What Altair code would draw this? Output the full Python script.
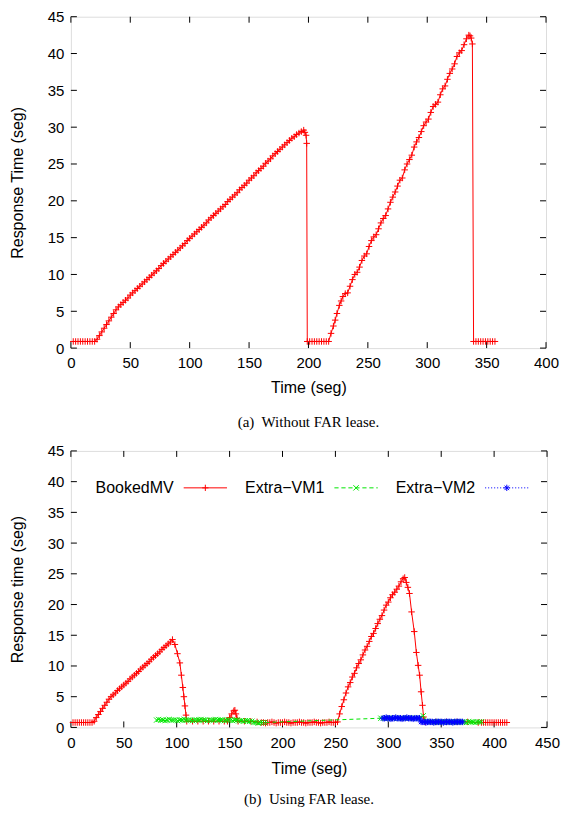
import altair as alt
import pandas as pd

# ---------------- panel (a): without FAR lease ----------------
a_time = [2, 4, 6, 8, 10, 12, 14, 16, 18, 20,
          22, 24, 26, 28, 30, 32, 34, 36, 38, 40,
          42, 44, 46, 48, 50, 52, 54, 56, 58, 60,
          62, 64, 66, 68, 70, 72, 74, 76, 78, 80,
          82, 84, 86, 88, 90, 92, 94, 96, 98, 100,
          102, 104, 106, 108, 110, 112, 114, 116, 118, 120,
          122, 124, 126, 128, 130, 132, 134, 136, 138, 140,
          142, 144, 146, 148, 150, 152, 154, 156, 158, 160,
          162, 164, 166, 168, 170, 172, 174, 176, 178, 180,
          182, 184, 186, 188, 190, 192, 194, 196,
          197, 198, 198.5,
          199, 201, 203, 205, 207, 209, 211, 213, 215, 217,
          219, 221, 222.5, 224, 226, 227.5, 229,
          231, 233, 235, 237, 239, 241, 243, 245, 247, 249,
          251, 253, 255, 257, 259, 261, 263, 265, 267, 269,
          271, 273, 275, 277, 279, 281, 283, 285, 287, 289,
          291, 293, 295, 297, 299, 301, 303, 305, 307, 309,
          311, 313, 315, 317, 319, 321, 323, 325, 327, 329,
          331, 333, 335, 336, 337, 338,
          339, 341, 343, 345, 347, 349, 351, 353, 355, 357]
a_resp = [0.9, 0.9, 0.9, 0.9, 0.9, 0.9, 0.9, 0.9, 0.9, 0.9,
          1.2, 1.7, 2.2, 2.7, 3.2, 3.7, 4.2, 4.7, 5.2, 5.6,
          5.9, 6.2, 6.5, 6.8, 7.2, 7.5, 7.8, 8.1, 8.4, 8.7,
          9.0, 9.3, 9.6, 9.9, 10.2, 10.5, 10.8, 11.2, 11.5, 11.8,
          12.1, 12.4, 12.7, 13.0, 13.3, 13.6, 13.9, 14.2, 14.6, 14.9,
          15.2, 15.5, 15.8, 16.1, 16.4, 16.7, 17.0, 17.4, 17.7, 18.0,
          18.3, 18.6, 18.9, 19.2, 19.5, 19.9, 20.2, 20.5, 20.8, 21.1,
          21.5, 21.8, 22.1, 22.4, 22.8, 23.1, 23.4, 23.8, 24.1, 24.4,
          24.7, 25.1, 25.4, 25.7, 26.1, 26.4, 26.7, 27.0, 27.3, 27.6,
          27.9, 28.2, 28.5, 28.7, 29.0, 29.2, 29.4, 29.6,
          29.3, 28.9, 27.8,
          0.9, 0.9, 0.9, 0.9, 0.9, 0.9, 0.9, 0.9, 0.9, 0.9,
          2.0, 3.0, 3.8, 4.7, 5.8, 6.4, 7.0,
          7.4, 7.5, 8.4, 9.3, 10.0, 10.3, 11.0, 11.9, 12.5, 12.8,
          13.8, 14.6, 15.1, 15.4, 16.2, 17.0, 17.6, 18.0, 18.9, 19.8,
          20.5, 21.2, 22.0, 22.8, 23.1, 24.2, 25.0, 25.6, 26.2, 27.3,
          28.0, 28.6, 29.4, 30.2, 30.7, 31.1, 32.0, 32.8, 33.1, 33.4,
          34.4, 35.2, 35.6, 36.5, 37.3, 37.9, 38.6, 39.6, 40.1, 40.4,
          41.2, 42.0, 42.5, 42.4, 42.1, 41.3,
          0.9, 0.9, 0.9, 0.9, 0.9, 0.9, 0.9, 0.9, 0.9, 0.9]

# ---------------- panel (b): using FAR lease ----------------
booked_time = [2, 4, 6, 8, 10, 12, 14, 16, 18, 20,
               22, 24, 26, 28, 30, 32, 34, 36, 38, 40,
               42, 44, 46, 48, 50, 52, 54, 56, 58, 60,
               62, 64, 66, 68, 70, 72, 74, 76, 78, 80,
               82, 84, 86, 88, 90, 92, 94, 96,
               98.3, 100.7, 103, 104.4, 105.8, 106.8, 107.8, 108.8, 109.5,
               115, 120, 125, 130, 135, 140, 145, 148,
               150, 152, 154, 155, 156, 157, 158,
               164, 170, 176, 180,
               182, 184, 186, 188, 190, 192, 194, 196, 198, 200,
               202, 204, 206, 208, 210, 212, 214, 216, 218, 220,
               222, 224, 226, 228, 230, 232, 234, 236, 238, 240,
               242, 244, 246, 248, 250,
               252, 254, 256, 258, 260, 262, 264, 266, 268, 270,
               272, 274, 276, 278, 280, 282, 284, 286, 288, 290,
               292, 294, 296, 298, 300, 302, 304, 306, 308, 310,
               312, 314,
               315.5, 317, 318.5, 320, 322, 324.5, 326.5, 328.2, 329.6, 331,
               332.3, 333.3,
               335, 345, 355, 365, 375, 385,
               388, 390, 392, 394, 396, 398, 400, 402, 404, 406,
               408, 410, 412]
booked_resp = [0.8, 0.8, 0.8, 0.8, 0.8, 0.8, 0.8, 0.8, 0.8, 0.8,
               1.0, 1.6, 2.1, 2.6, 3.1, 3.6, 4.1, 4.6, 5.0, 5.3,
               5.6, 6.0, 6.3, 6.6, 6.9, 7.2, 7.5, 7.9, 8.2, 8.5,
               8.8, 9.1, 9.5, 9.8, 10.1, 10.4, 10.7, 11.1, 11.4, 11.7,
               12.0, 12.3, 12.7, 13.0, 13.3, 13.6, 13.9, 14.3,
               13.5, 12.0, 10.5, 8.5, 6.5, 5.0, 3.5, 2.0, 1.0,
               1.0, 1.0, 1.0, 1.0, 1.0, 1.0, 1.0, 1.0,
               1.6, 2.2, 2.7, 2.8, 2.2, 1.5, 1.0,
               1.0, 1.0, 0.9, 0.8,
               0.8, 0.7, 0.8, 0.8, 0.9, 0.8, 0.7, 0.8, 0.8, 0.8,
               0.9, 0.8, 0.8, 0.7, 0.8, 0.8, 0.8, 0.9, 0.8, 0.8,
               0.7, 0.8, 0.8, 0.8, 0.9, 0.8, 0.8, 0.7, 0.8, 0.8,
               0.8, 0.9, 0.8, 0.8, 0.8,
               0.9, 2.2, 3.4, 4.5, 5.6, 6.6, 7.3, 8.2, 8.8, 9.7,
               10.4, 11.0, 11.8, 12.6, 13.2, 14.0, 14.8, 15.3, 16.1, 16.9,
               17.6, 18.2, 19.1, 19.9, 20.4, 21.1, 21.6, 22.0, 22.5, 23.0,
               23.7, 24.2,
               24.4, 23.6, 22.8, 21.8, 18.8, 15.6, 12.2, 10.1, 8.5, 5.8,
               3.6, 1.7,
               0.9, 0.9, 0.9, 0.9, 0.9, 0.8,
               0.8, 0.8, 0.8, 0.8, 0.8, 0.8, 0.8, 0.8, 0.8, 0.8,
               0.8, 0.8, 0.8]

vm1_time = [81, 83, 85, 87, 89, 91, 93, 95, 97, 99,
            101, 103, 105, 107, 109, 111, 113, 115, 117, 119,
            121, 123, 125, 127, 129, 131, 133, 135, 137, 139,
            141, 143, 145, 147,
            149, 151, 153, 155, 157,
            159, 161, 163, 165, 167, 169, 171,
            173, 175, 177, 179, 181, 183,
            293,
            296, 299, 302, 305, 308, 311, 314, 317, 320, 323, 326, 329,
            333, 336,
            340, 342, 344, 346, 348, 350, 352, 354, 356, 358,
            360, 362, 364, 366, 368, 370, 372, 374, 376, 378,
            380, 382, 384, 386, 388]
vm1_resp = [1.2, 1.3, 1.2, 1.2, 1.1, 1.2, 1.3, 1.2, 1.2, 1.2,
            1.1, 1.2, 1.2, 1.3, 1.2, 1.2, 1.2, 1.1, 1.2, 1.2,
            1.2, 1.3, 1.2, 1.2, 1.1, 1.2, 1.2, 1.2, 1.3, 1.2,
            1.2, 1.2, 1.1, 1.2,
            1.2, 1.2, 1.1, 1.2, 1.2,
            1.1, 1.1, 1.0, 1.1, 1.1, 1.0, 1.0,
            0.8, 0.8, 0.7, 0.8, 0.8, 0.8,
            1.5,
            1.5, 1.5, 1.5, 1.5, 1.5, 1.5, 1.5, 1.5, 1.5, 1.5, 1.5, 1.5,
            1.9, 1.0,
            0.9, 0.9, 0.9, 0.9, 0.9, 0.9, 0.9, 0.9, 0.9, 0.9,
            0.9, 0.9, 0.9, 0.9, 0.9, 0.9, 0.9, 0.8, 0.9, 0.9,
            0.9, 0.8, 0.9, 0.9, 0.9]

vm2_time = [295, 296.5, 298, 299.5, 301, 302.5, 304, 305.5, 307, 308.5,
            310, 311.5, 313, 314.5, 316, 317.5, 319, 320.5, 322, 323.5,
            325, 326.5, 328, 329.5,
            331, 332.5, 334, 335.5, 337, 338.5, 340, 341.5, 343, 344.5,
            346, 347.5, 349, 350.5, 352, 353.5, 355, 356.5, 358, 359.5,
            361, 362.5, 364, 365.5, 367, 368.5, 370]
vm2_resp = [1.5, 1.5, 1.6, 1.5, 1.5, 1.4, 1.5, 1.5, 1.6, 1.5,
            1.5, 1.5, 1.4, 1.5, 1.5, 1.6, 1.5, 1.5, 1.5, 1.4,
            1.5, 1.5, 1.5, 1.5,
            0.9, 0.9, 0.9, 0.8, 0.9, 0.9, 0.9, 0.9, 0.8, 0.9,
            0.9, 0.9, 0.9, 0.9, 0.8, 0.9, 0.9, 0.9, 0.9, 0.9,
            0.8, 0.9, 0.9, 0.9, 0.9, 0.9, 0.9]

series_names = ["BookedMV", "Extra\u2212VM1", "Extra\u2212VM2"]
series_colors = ["#ff0000", "#00e600", "#0000ff"]

x_ticks_a = [0, 50, 100, 150, 200, 250, 300, 350, 400]
x_ticks_b = [0, 50, 100, 150, 200, 250, 300, 350, 400, 450]
y_ticks = [0, 5, 10, 15, 20, 25, 30, 35, 40, 45]

# ---------------- styling ----------------
FONT = "Liberation Sans"
SERIF = "Liberation Serif"
PLUS = "M-1,0L1,0M0,-1L0,1"
CROSS = "M-0.8,-0.8L0.8,0.8M-0.8,0.8L0.8,-0.8"
STAR = "M-1,0L1,0M0,-1L0,1M-0.7,-0.7L0.7,0.7M-0.7,0.7L0.7,-0.7"
TICK = 6

# legend sample: drawn to the right of the (right-aligned) label
L0, L1 = 2.57, 8.77
LC = (L0 + L1) / 2


def dashed(on, off):
    segs, x = [], L0
    while x < L1:
        e = min(x + on, L1)
        segs.append(f"M{x:.2f},0L{e:.2f},0")
        x += on + off
    return "".join(segs)


def marker(kind, r=0.45):
    c = LC
    plus = f"M{c - r:.2f},0L{c + r:.2f},0M{c:.2f},{-r}L{c:.2f},{r}"
    d = r * 0.85
    cross = f"M{c - d:.2f},{-d:.2f}L{c + d:.2f},{d:.2f}M{c - d:.2f},{d:.2f}L{c + d:.2f},{-d:.2f}"
    if kind == "plus":
        return plus
    if kind == "cross":
        return cross
    return plus + f"M{c - 0.7 * r:.2f},{-0.7 * r:.2f}L{c + 0.7 * r:.2f},{0.7 * r:.2f}" \
                  f"M{c - 0.7 * r:.2f},{0.7 * r:.2f}L{c + 0.7 * r:.2f},{-0.7 * r:.2f}"


legend_paths = [
    f"M{L0},0L{L1},0" + marker("plus"),
    dashed(0.6, 0.4) + marker("cross"),
    dashed(0.15, 0.28) + marker("star"),
]


def encodings(xmax, xticks, ytitle, lp, tp):
    X = alt.X("t:Q", scale=alt.Scale(domain=[0, xmax], nice=False, zero=False),
              axis=alt.Axis(values=xticks, title="Time (seg)", ticks=False, domain=False,
                            grid=False, labelPadding=lp, titlePadding=tp, labelFlush=False,
                            labelFont=FONT, labelFontSize=15, labelColor="black",
                            titleFont=FONT, titleFontSize=16, titleFontWeight="normal",
                            titleColor="black"))
    Y = alt.Y("v:Q", scale=alt.Scale(domain=[0, 45], nice=False, zero=False),
              axis=alt.Axis(values=y_ticks, title=ytitle, ticks=False, domain=False,
                            grid=False, labelPadding=7, titlePadding=22, labelFlush=False,
                            labelFont=FONT, labelFontSize=15, labelColor="black",
                            titleFont=FONT, titleFontSize=16, titleFontWeight="normal",
                            titleColor="black"))
    return X, Y


def tick_layers(X, Y, xticks, W, H):
    xt = pd.DataFrame({"t": xticks})
    yt = pd.DataFrame({"v": y_ticks})
    r = dict(color="black", strokeWidth=1)
    return [
        alt.Chart(xt).mark_rule(**r).encode(x=X, y=alt.value(H), y2=alt.value(H - TICK)),
        alt.Chart(xt).mark_rule(**r).encode(x=X, y=alt.value(0), y2=alt.value(TICK)),
        alt.Chart(yt).mark_rule(**r).encode(y=Y, x=alt.value(0), x2=alt.value(TICK)),
        alt.Chart(yt).mark_rule(**r).encode(y=Y, x=alt.value(W - TICK), x2=alt.value(W)),
    ]


def series_layers(X, Y, times, vals, color, shape, dash=None):
    df = pd.DataFrame({"t": times, "v": vals})
    kw = dict(color=color, strokeWidth=1)
    if dash:
        kw["strokeDash"] = dash
    line = alt.Chart(df).mark_line(**kw).encode(x=X, y=Y)
    pts = alt.Chart(df).mark_point(shape=shape, size=42, color=color, strokeWidth=1,
                                   filled=False, opacity=1).encode(x=X, y=Y)
    return [line, pts]


# panel (a)
WA, HA = 476, 332
Xa, Ya = encodings(400, x_ticks_a, "Response Time (seg)", 7.6, 8.5)
panel_a = alt.layer(
    *tick_layers(Xa, Ya, x_ticks_a, WA, HA),
    *series_layers(Xa, Ya, a_time, a_resp, "#ff0000", PLUS),
).properties(
    width=WA, height=HA,
    title=alt.TitleParams("(a)\u00a0 Without FAR lease.", orient="bottom", anchor="middle",
                          font=SERIF, fontSize=15, fontWeight="normal", color="black",
                          offset=20),
)

# panel (b)
WB, HB = 477, 277
Xb, Yb = encodings(450, x_ticks_b, "Response time (seg)", 8.5, 10)
leg = alt.Legend(title=None, orient="none", legendX=87, legendY=464, direction="horizontal",
                 symbolSize=196, symbolStrokeWidth=1, symbolOpacity=1,
                 labelFont=FONT, labelFontSize=16, labelColor="black",
                 labelAlign="right", labelOffset=0, columnPadding=15, padding=0)
leg_df = pd.DataFrame({"series": series_names, "t": [None, None, None], "v": [None, None, None]})
legend_layer = alt.Chart(leg_df).mark_point(filled=False, strokeWidth=1, opacity=1).encode(
    x=Xb, y=Yb,
    color=alt.Color("series:N", scale=alt.Scale(domain=series_names, range=series_colors), legend=leg),
    shape=alt.Shape("series:N", scale=alt.Scale(domain=series_names, range=legend_paths), legend=leg),
)
panel_b = alt.layer(
    *tick_layers(Xb, Yb, x_ticks_b, WB, HB),
    *series_layers(Xb, Yb, booked_time, booked_resp, series_colors[0], PLUS),
    *series_layers(Xb, Yb, vm1_time, vm1_resp, series_colors[1], CROSS, [4, 3]),
    *series_layers(Xb, Yb, vm2_time, vm2_resp, series_colors[2], STAR, [1.5, 2.5]),
    legend_layer,
).properties(
    width=WB, height=HB,
    title=alt.TitleParams("(b)\u00a0 Using FAR lease.", orient="bottom", anchor="middle",
                          font=SERIF, fontSize=15, fontWeight="normal", color="black",
                          offset=15),
)

chart = alt.vconcat(panel_a, panel_b, spacing=12).properties(
    padding={"left": 0, "top": 0, "right": 0, "bottom": 0}
).configure_view(stroke="black", strokeWidth=1).configure(background="white")

chart.save("out.html", embed_options={"renderer": "svg", "actions": False})
